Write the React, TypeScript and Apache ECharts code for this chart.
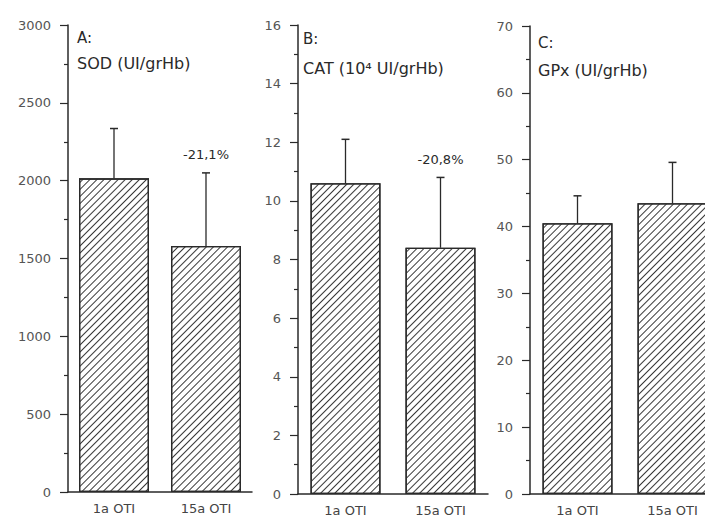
import React, { useEffect, useRef } from 'react';
import * as echarts from 'echarts';

const categories = ['1a OTI', '15a OTI'];
const sodMean = [2015, 1580];
const sodSd = [320, 470];
const catMean = [10.6, 8.4];
const catSd = [1.5, 2.4];
const gpxMean = [40.5, 43.5];
const gpxSd = [4.1, 6.1];
const changeLabels = [['', '-21,1%'], ['', '-20,8%'], ['', '']];
const yMax = [3000, 16, 70];
const yStep = [500, 2, 10];
const panelLetters = ['A:', 'B:', 'C:'];
const panelUnits = ['SOD (UI/grHb)', 'CAT (10⁴ UI/grHb)', 'GPx (UI/grHb)'];

const means = [sodMean, catMean, gpxMean];
const sds = [sodSd, catSd, gpxSd];

const grids = [
  { left: 68, top: 25, width: 184, height: 467, outerBoundsMode: 'none' },
  { left: 298, top: 25, width: 190, height: 469, outerBoundsMode: 'none' },
  { left: 530, top: 26, width: 190, height: 468, outerBoundsMode: 'none' },
];
const titlePos = [
  { x: 77, y1: 30, y2: 55 },
  { x: 303, y1: 31, y2: 60 },
  { x: 538, y1: 35, y2: 62 },
];

const ink = '#2a2a2a';
const labelFont = 'DejaVu Sans';

export default function App() {
  const ref = useRef<HTMLDivElement>(null);
  useEffect(() => {
    if (!ref.current) return;
    const chart = echarts.init(ref.current, null, { renderer: 'svg' });
    const decal = {
      symbol: 'rect',
      symbolSize: 1,
      dashArrayX: [[1, 0]],
      dashArrayY: [0.9, 3.2],
      rotation: -Math.PI / 4,
      color: '#383838',
      backgroundColor: '#ffffff',
    };
    const titles: any[] = [];
    panelLetters.forEach((t, i) => {
      titles.push({
        text: t,
        left: titlePos[i].x,
        top: titlePos[i].y1,
        padding: 0,
        textStyle: { fontSize: 15, fontWeight: 'normal', color: ink, fontFamily: labelFont },
      });
      titles.push({
        text: panelUnits[i],
        left: titlePos[i].x,
        top: titlePos[i].y2,
        padding: 0,
        textStyle: { fontSize: 16, fontWeight: 'normal', color: ink, fontFamily: labelFont },
      });
    });
    const series: any[] = [];
    means.forEach((m, i) => {
      series.push({
        type: 'bar',
        xAxisIndex: i,
        yAxisIndex: i,
        data: m,
        barWidth: 70,
        itemStyle: { color: '#ffffff', borderColor: ink, borderWidth: 1.3, decal },
        z: 2,
      });
      series.push({
        type: 'custom',
        xAxisIndex: i,
        yAxisIndex: i,
        z: 3,
        data: m.map((v, j) => [j, v, v + sds[i][j], changeLabels[i][j]]),
        renderItem: (params: any, api: any) => {
          const x = api.value(0);
          const base = api.coord([x, api.value(1)]);
          const top = api.coord([x, api.value(2)]);
          const idx = params.dataIndex;
          const txt = changeLabels[i][idx];
          const children: any[] = [
            {
              type: 'line',
              shape: { x1: base[0], y1: base[1], x2: top[0], y2: top[1] },
              style: { stroke: ink, lineWidth: 1.3 },
            },
            {
              type: 'line',
              shape: { x1: top[0] - 4, y1: top[1], x2: top[0] + 4, y2: top[1] },
              style: { stroke: ink, lineWidth: 1.5 },
            },
          ];
          if (txt) {
            children.push({
              type: 'text',
              style: {
                text: txt,
                x: top[0],
                y: top[1] - 18,
                align: 'center',
                verticalAlign: 'middle',
                fontSize: 13,
                fontFamily: labelFont,
                fill: ink,
              },
            });
          }
          return { type: 'group', children };
        },
      });
    });
    chart.setOption({
      animation: false,
      backgroundColor: '#ffffff',
      title: titles,
      grid: grids,
      xAxis: grids.map((_, i) => ({
        type: 'category',
        gridIndex: i,
        data: categories,
        axisLine: { lineStyle: { color: ink, width: 1.5 } },
        axisTick: { show: false },
        axisLabel: { color: '#444', fontSize: 13, fontFamily: labelFont, margin: 10 },
      })),
      yAxis: grids.map((_, i) => ({
        type: 'value',
        gridIndex: i,
        min: 0,
        max: yMax[i],
        interval: yStep[i],
        axisLine: { show: true, lineStyle: { color: ink, width: 1.5 } },
        axisTick: { show: true, length: 8, lineStyle: { color: ink, width: 1.2 } },
        minorTick: { show: true, splitNumber: 2, length: 4, lineStyle: { color: ink, width: 1.2 } },
        splitLine: { show: false },
        minorSplitLine: { show: false },
        axisLabel: {
          color: '#555',
          fontSize: 13,
          fontFamily: labelFont,
          margin: 17,
          formatter: (v: number) => String(v),
        },
      })),
      series,
    });
    return () => chart.dispose();
  }, []);
  return (
    <div
      ref={ref}
      style={{ position: 'fixed', left: 0, top: 0, width: 705, height: 517, background: '#fff' }}
    />
  );
}
